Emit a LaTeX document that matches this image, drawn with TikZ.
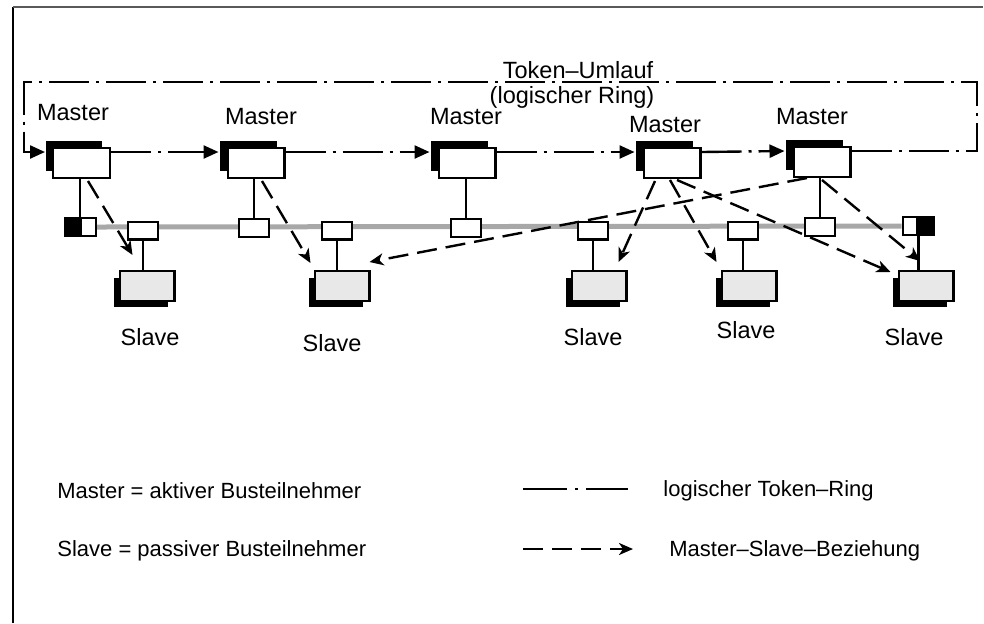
\documentclass[tikz,border=0pt]{standalone}
\usepackage{fontspec}
\setmainfont{Liberation Sans}
\usetikzlibrary{arrows.meta,shadows,calc}
\definecolor{busgray}{gray}{0.66}
\definecolor{slavefill}{gray}{0.91}
\definecolor{framegray}{gray}{0.35}
\begin{document}
\begin{tikzpicture}[x=0.5pt,y=-0.5pt,
  lbl/.style={font=\fontsize{11.75}{14}\selectfont, inner sep=0pt},
  legendtext/.style={font=\fontsize{11}{13}\selectfont, inner sep=0pt, anchor=west},
  masterbox/.style={draw, line width=1.2pt, fill=white, minimum width=28.3pt,
    minimum height=14.8pt, inner sep=0pt,
    general shadow={fill=black, shadow xshift=-3.75pt, shadow yshift=3.5pt}},
  slavebox/.style={draw, line width=1.2pt, fill=slavefill, minimum width=27.3pt,
    minimum height=14.8pt, inner sep=0pt,
    general shadow={fill=black, shadow xshift=-3pt, shadow yshift=-3.3pt}},
  tapbox/.style={draw, line width=1.2pt, fill=white, minimum width=14.8pt,
    minimum height=8.8pt, inner sep=0pt},
  termhalf/.style={draw, line width=1.2pt, minimum width=7.3pt,
    minimum height=8.8pt, inner sep=0pt},
  wire/.style={line width=1.2pt},
  ring/.style={line width=1.2pt, dash pattern=on 20pt off 3.5pt on 1.5pt off 3.5pt},
  ringtip/.style={-{Triangle[length=7.5pt,width=6.5pt]}},
  msarrow/.style={line width=1.2pt, dash pattern=on 10pt off 4.5pt,
    -{Stealth[length=7pt,width=6pt,inset=2pt]}},
]
\useasboundingbox (0,0) rectangle (984,623);

% frame
\draw[line width=0.9pt] (13,623) -- (13,7);
\draw[framegray, line width=1pt] (13,7) -- (983,7);

% bus terminators
\node[termhalf, fill=black] (tlb) at (72,227) {};
\node[termhalf, fill=white] (tlw) at (88.5,227) {};
\node[termhalf, fill=white] (trw) at (910,226) {};
\node[termhalf, fill=black] (trb) at (926.5,226) {};

% the bus itself
\draw[busgray, line width=2.5pt] (tlw.east) -- (trw.west);

% masters
\node[masterbox] (m1) at (81.5,163) {};
\node[masterbox] (m2) at (256,163) {};
\node[masterbox] (m3) at (467,163) {};
\node[masterbox] (m4) at (672,163) {};
\node[masterbox] (m5) at (822,162) {};

\node[lbl] (lm1) at (73,113) {Master};
\node[lbl] (lm2) at (261,117) {Master};
\node[lbl] (lm3) at (466,117) {Master};
\node[lbl] (lm4) at (665,125) {Master};
\node[lbl] (lm5) at (812,117) {Master};

% slaves
\node[slavebox] (s1) at (147,286) {};
\node[slavebox] (s2) at (342,286) {};
\node[slavebox] (s3) at (599,286) {};
\node[slavebox] (s4) at (749,286) {};
\node[slavebox] (s5) at (926,286) {};

\node[lbl] (ls1) at (150,337) {Slave};
\node[lbl] (ls2) at (332,343) {Slave};
\node[lbl] (ls3) at (593,337) {Slave};
\node[lbl] (ls4) at (746,330) {Slave};
\node[lbl] (ls5) at (914,337) {Slave};

% bus taps
\node[tapbox] (bm2) at (254,228) {};
\node[tapbox] (bm3) at (466,228) {};
\node[tapbox] (bm5) at (820,227) {};
\node[tapbox] (bs1) at (143,230.5) {};
\node[tapbox] (bs2) at (337,230.5) {};
\node[tapbox] (bs3) at (593,230.5) {};
\node[tapbox] (bs4) at (743,230.5) {};

% stubs from stations to the bus
\draw[wire] (tlw.north west) -- (tlw.north west |- m1.south);
\draw[wire] (bm2.north) -- (bm2.north |- m2.south);
\draw[wire] (bm3.north) -- (bm3.north |- m3.south);
\draw[wire] (bm5.north) -- (bm5.north |- m5.south);
\draw[wire] (bs1.south) -- (bs1.south |- s1.north);
\draw[wire] (bs2.south) -- (bs2.south |- s2.north);
\draw[wire] (bs3.south) -- (bs3.south |- s3.north);
\draw[wire] (bs4.south) -- (bs4.south |- s4.north);
\draw[wire] (trw.south east) -- (trw.south east |- s5.north);

% logical token ring
\coordinate (ringTL) at (24,82);
\coordinate (ringTR) at (977,82);
\draw[ring, ringtip] ($(m5.east)+(0,-11)$) -| (ringTR) -- (ringTL) |- ($(m1.west)+(-7,-11)$);
\draw[ring, ringtip] ($(m1.east)+(0,-11)$) -- ($(m2.west)+(-8,-11)$);
\draw[ring, ringtip] ($(m2.east)+(0,-11)$) -- ($(m3.west)+(-8,-11)$);
\draw[ring, ringtip] ($(m3.east)+(0,-11)$) -- ($(m4.west)+(-8,-11)$);
\draw[ring, ringtip] ($(m4.east)+(0,-11)$) -- ($(m5.west)+(-8,-11)$);

\node[lbl] (tok1) at (578,70) {Token–Umlauf};
\node[lbl] (tok2) at (572,97) {(logischer Ring)};

% master-slave relations
\draw[msarrow] ($(m1.south)+(6.5,2)$) -- ($(s1.north west)+(14,-15)$);
\draw[msarrow] ($(m2.south)+(6,2)$) -- ($(s2.north west)+(-3,-7)$);
\draw[msarrow] ($(m5.south)+(-15,0)$) -- ($(s2.north east)+(-1,-8)$);
\draw[msarrow] ($(m4.south)+(-17,2)$) -- ($(s3.north east)+(-9,-8)$);
\draw[msarrow] ($(m4.south)+(-2,1)$) -- ($(s4.north west)+(-4,-8)$);
\draw[msarrow] ($(m4.south)+(5,1)$) -- ($(s5.north west)+(-7,2)$);
\draw[msarrow] ($(m5.south)+(0,2)$) -- ($(s5.north)+(-6,-9)$);

% legend
\node[legendtext] (lg1) at (57,491) {Master = aktiver Busteilnehmer};
\node[legendtext] (lg2) at (57,551) {Slave = passiver Busteilnehmer};
\node[legendtext] (lg3) at (663,491) {logischer Token–Ring};
\node[legendtext] (lg4) at (669,551) {Master–Slave–Beziehung};
\coordinate (lr1) at (523,489);
\coordinate (lr2) at (628,489);
\coordinate (la1) at (523,549);
\coordinate (la2) at (633,549);
\draw[line width=1.2pt, dash pattern=on 22pt off 4pt on 1.5pt off 4pt] (lr1) -- (lr2);
\draw[msarrow] (la1) -- (la2);
\end{tikzpicture}
\end{document}
